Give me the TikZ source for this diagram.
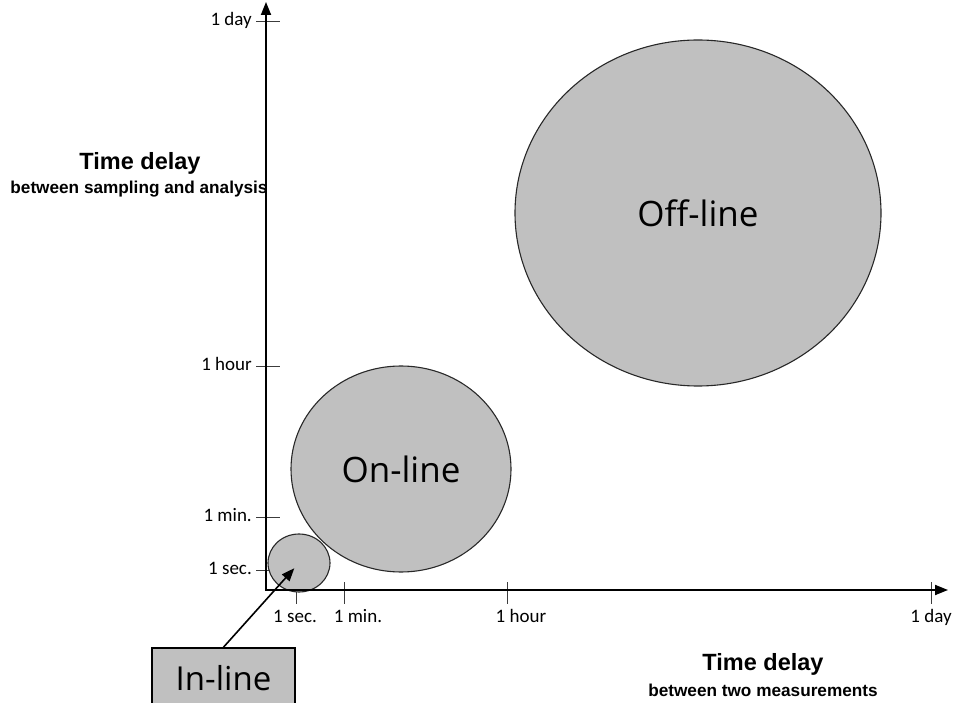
\documentclass[tikz,border=0pt]{standalone}
\usepackage{xcolor}
\usepackage{fontspec}
\setmainfont{Liberation Sans}
\newfontfamily\tickfont{Carlito}
\newfontfamily\bubblefont{Open Sans}
\usepackage{tikz}
\usetikzlibrary{shapes.geometric, arrows.meta, positioning}
\definecolor{bubblegray}{RGB}{192,192,192}
\definecolor{rimgray}{RGB}{40,40,40}
\definecolor{tickgray}{RGB}{60,60,60}
\tikzset{
  bubble/.style={ellipse, draw=rimgray, fill=bubblegray, line width=1.1pt,
    inner sep=0pt, font=\bubblefont\fontsize{35}{40}\selectfont},
  labelbox/.style={rectangle, draw=black, fill=bubblegray, line width=1.6pt,
    minimum width=143pt, minimum height=60pt, inner sep=0pt,
    font=\bubblefont\fontsize{33}{38}\selectfont},
  axis/.style={line width=1.8pt, line join=miter,
    {Triangle[length=13pt,width=10pt]}-{Triangle[length=13pt,width=10pt]}},
  tickmark/.style={line width=1pt, color=tickgray},
  ticklabel/.style={font=\tickfont\fontsize{19}{22}\selectfont, inner sep=1pt},
  axistitle/.style={font=\bfseries\fontsize{23.5}{27}\selectfont, inner sep=0pt},
  axissub/.style={font=\bfseries\fontsize{17.2}{20}\selectfont, inner sep=0pt},
  pointer/.style={line width=1.6pt, -{Triangle[length=13pt,width=10pt]}}
}

\begin{document}
\begin{tikzpicture}[x=1pt, y=-1pt]
  \useasboundingbox (0,0) rectangle (954,703);

  % Axes
  \coordinate (origin) at (266,590);
  \coordinate (ytop) at (266,2);
  \coordinate (xend) at (948,590);

  % Ticks on the vertical axis
  \foreach \y/\txt/\nm in {22/1 day/yday, 367/1 hour/yhour, 517/1 min./ymin, 570/1 sec./ysec}{
    \draw[tickmark] (256,\y) -- (280,\y);
    \node[ticklabel, anchor=base east] (\nm) at (253,\y+4) {\txt};
  }

  % Ticks on the horizontal axis
  \foreach \x/\lx/\txt/\nm in {296/295/1 sec./xsec, 344/358/1 min./xmin, 507/521/1 hour/xhour, 931/931/1 day/xday}{
    \draw[tickmark] (\x,582) -- (\x,604);
    \node[ticklabel, anchor=base] (\nm) at (\lx,622) {\txt};
  }

  % Bubbles
  \node[bubble, minimum width=366pt, minimum height=346pt] (offline) at (698,213) {Off-line};
  \node[bubble, minimum width=220pt, minimum height=206pt] (online) at (401,469) {On-line};
  \node[bubble, minimum width=62pt, minimum height=58pt] (inbubble) at (299,563) {};

  \draw[axis] (ytop) -- (origin) -- (xend);

  % Axis titles
  \node[axistitle] (ytitle) at (140,163) {Time delay};
  \node[axissub] (ysub) at (139,189) {between sampling and analysis};
  \node[axistitle] (xtitle) at (763,664) {Time delay};
  \node[axissub] (xsub) at (763,690) {between two measurements};

  % In-line label
  \node[labelbox] (inline) at (223.5,678) {In-line};
  \draw[pointer, shorten >=7pt] (inline.north) -- (inbubble.center);
\end{tikzpicture}
\end{document}
